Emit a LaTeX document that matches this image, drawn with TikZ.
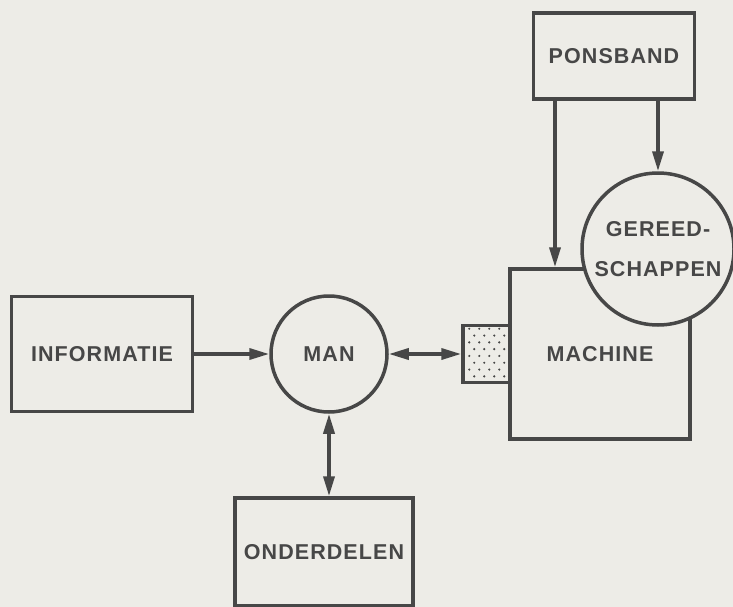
\documentclass[tikz,border=0pt]{standalone}
\usepackage{fontspec}
\setmainfont{Liberation Sans}
\usetikzlibrary{shapes.geometric, arrows.meta, positioning}

\definecolor{paper}{HTML}{EDECE7}
\definecolor{ink}{HTML}{474747}

\begin{document}
\begin{tikzpicture}[x=1pt, y=-1pt,
    box/.style={rectangle, draw=ink, line width=3.5pt, fill=paper, text=ink,
      font=\fontsize{21.5}{40}\selectfont\bfseries\addfontfeature{LetterSpace=5}},
    disc/.style={circle, draw=ink, line width=3.5pt, fill=paper, text=ink, inner sep=0pt, align=center,
      font=\fontsize{21.5}{40}\selectfont\bfseries\addfontfeature{LetterSpace=5}},
    arr/.style={draw=ink, line width=3.5pt, -{Triangle[length=20pt, width=11pt]}},
    darr/.style={draw=ink, line width=3.5pt, {Triangle[length=20pt, width=11pt]}-{Triangle[length=20pt, width=11pt]}}]
    \fill[paper] (0,0) rectangle (733,607);
    \useasboundingbox (0,0) rectangle (733,607);

    \node [box, minimum width=161pt, minimum height=86pt] (ponsband) at (614,56) {PONSBAND};
    \node [box, minimum width=180pt, minimum height=170pt] (machine) at (600,354) {MACHINE};
    \node [disc, minimum size=152pt] (gereed) at (658,249) {GEREED-\\SCHAPPEN};
    \node [box, minimum width=181pt, minimum height=115pt] (informatie) at (102,354) {INFORMATIE};
    \node [disc, minimum size=116pt] (man) at (329,354) {MAN};
    \node [box, minimum width=178pt, minimum height=108pt] (onderdelen) at (324,552) {ONDERDELEN};
    \node [rectangle, draw=ink, line width=3.5pt, fill=paper, minimum width=47pt, minimum height=57pt]
      (plug) at (486.5,354) {};

    % dotted coupling piece
    \foreach \j in {0,...,7} {
      \pgfmathsetmacro{\dx}{mod(\j,2)*5}
      \foreach \i in {0,...,3} {
        \fill[ink] ([xshift=8pt+\i*10pt+\dx pt, yshift=-5pt-\j*6.8pt]plug.north west) circle (1.2pt);
      }
    }

    \draw[arr] ([xshift=-59pt]ponsband.south) -- ([xshift=-59pt]ponsband.south |- machine.north);
    \draw[arr] (ponsband.south -| gereed.north) -- (gereed.north);
    \draw[arr] (informatie) -- (man);
    \draw[darr] (man) -- (plug);
    \draw[darr] (man.south) -- (man.south |- onderdelen.north);
\end{tikzpicture}
\end{document}
